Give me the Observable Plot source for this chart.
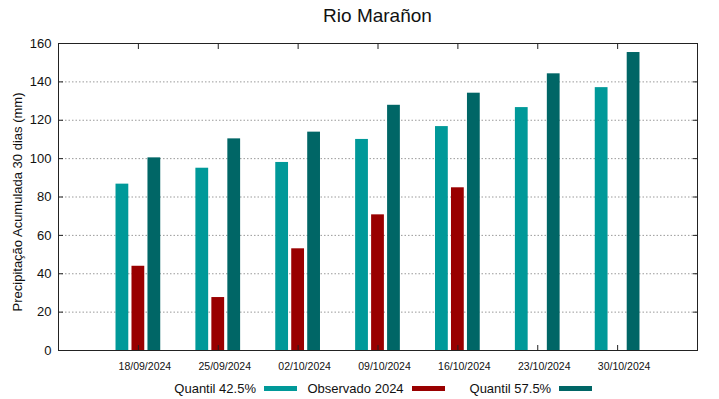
<!DOCTYPE html>
<html>
<head>
<meta charset="utf-8">
<script src="https://cdn.jsdelivr.net/npm/d3@7"></script>
<script src="https://cdn.jsdelivr.net/npm/@observablehq/plot@0.6"></script>
<style>
  html, body { margin: 0; padding: 0; background: #fff; }
  body { font-family: "Liberation Sans", Arial, sans-serif; }
  #wrap { position: relative; width: 719px; height: 399px; overflow: hidden; }
  #title { position: relative; height: 33px; }
  #title span { position: absolute; left: 58px; width: 639px; top: 6px; text-align: center; font-size: 19px; line-height: 19px; color: #111; }
  #legend { position: relative; height: 21px; font-size: 13px; color: #111; }
  .item { position: absolute; top: 0; height: 21px; display: flex; justify-content: flex-end; align-items: center; }
  .sw { display: inline-block; width: 33px; height: 5px; margin-left: 8px; }
</style>
</head>
<body>
<div id="wrap">
  <div id="title"><span></span></div>
  <div id="chart"></div>
  <div id="legend"></div>
</div>
<script>
const titleText = "Rio Marañon";
const yLabel = "Precipitação Acumulada 30 dias (mm)";
const dates = ["18/09/2024", "25/09/2024", "02/10/2024", "09/10/2024", "16/10/2024", "23/10/2024", "30/10/2024"];
const q425 = [86.7, 95.0, 98.0, 110.0, 116.7, 126.6, 137.0];
const obs2024 = [43.9, 27.6, 53.0, 70.7, 84.8, null, null];
const q575 = [100.4, 110.3, 113.8, 127.8, 134.1, 144.2, 155.3];
const seriesNames = ["Quantil 42.5%", "Observado 2024", "Quantil 57.5%"];
const colors = ["#009999", "#990000", "#006666"];
const yTicks = [0, 20, 40, 60, 80, 100, 120, 140, 160];
const gridTicks = [20, 40, 60, 80, 100, 120, 140];

document.querySelector("#title span").textContent = titleText;

const rows = dates.flatMap((d, i) =>
  [q425[i], obs2024[i], q575[i]].map((v, s) => ({i, s, value: v}))
).filter(r => r.value != null);

const pos = dates.map((d, i) => i + 1);
const pitch = 0.2, half = 0.08;

const chart = Plot.plot({
  width: 719,
  height: 345,
  marginTop: 10,
  marginBottom: 28,
  marginLeft: 58,
  marginRight: 22,
  style: {fontFamily: "'Liberation Sans', Arial, sans-serif", color: "#111", background: "#fff"},
  x: {type: "linear", domain: [0, dates.length + 1]},
  y: {domain: [0, 160]},
  color: {type: "ordinal", domain: [0, 1, 2], range: colors},
  marks: [
    Plot.gridY(gridTicks, {stroke: "#9a9a9a", strokeOpacity: 1, strokeDasharray: "1.5,2"}),
    Plot.rect(rows, {
      x1: r => r.i + 1 + (r.s - 1) * pitch - half,
      x2: r => r.i + 1 + (r.s - 1) * pitch + half,
      y1: 0,
      y2: "value",
      fill: "s"
    }),
    Plot.frame({stroke: "#222", strokeWidth: 1}),
    Plot.axisY(yTicks, {anchor: "left", tickSize: 0, tickPadding: 7, fontSize: 13, label: null}),
    Plot.axisY(yTicks, {anchor: "left", tickSize: -5, text: null, label: null, stroke: "#222"}),
    Plot.axisY(yTicks, {anchor: "right", tickSize: -5, text: null, label: null, stroke: "#222"}),
    Plot.axisX(pos, {anchor: "bottom", tickSize: 0, tickPadding: 12, fontSize: 10.5, dx: 6.5, tickFormat: v => dates[v - 1], label: null}),
    Plot.axisX(pos, {anchor: "bottom", tickSize: -5, text: null, label: null, stroke: "#222"}),
    Plot.axisX(pos, {anchor: "top", tickSize: -5, text: null, label: null, stroke: "#222"}),
    Plot.text([yLabel], {frameAnchor: "left", text: d => d, rotate: -90, dx: -40.5, dy: 5, fontSize: 13, fill: "#111", textAnchor: "middle", lineAnchor: "middle"})
  ]
});
document.getElementById("chart").appendChild(chart);

const legend = document.getElementById("legend");
seriesNames.forEach((name, k) => {
  const item = document.createElement("div");
  item.className = "item";
  item.style.left = (149.4 + 147.6 * k) + "px";
  item.style.width = "147.6px";
  const t = document.createElement("span");
  t.textContent = name;
  const sw = document.createElement("span");
  sw.className = "sw";
  sw.style.background = colors[k];
  item.appendChild(t);
  item.appendChild(sw);
  legend.appendChild(item);
});
</script>
</body>
</html>
